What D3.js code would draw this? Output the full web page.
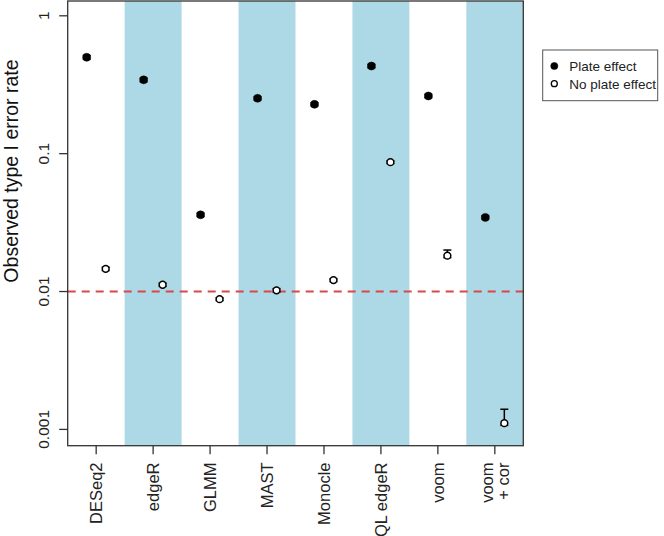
<!DOCTYPE html>
<html>
<head>
<meta charset="utf-8">
<script src="https://cdn.jsdelivr.net/npm/d3@7"></script>
<style>
  html, body { margin: 0; padding: 0; background: #fff; }
  svg { display: block; font-family: "Liberation Sans", Arial, Helvetica, sans-serif; }
</style>
</head>
<body>
<svg id="chart" width="664" height="536"></svg>
<script>
// ---- Data ----
const methods = ["DESeq2", "edgeR", "GLMM", "MAST", "Monocle", "QL edgeR", "voom", "voom\n+ cor"];
const shaded = [false, true, false, true, false, true, false, true];
const plateEffect      = [0.50, 0.343, 0.036, 0.252, 0.228, 0.432, 0.262, 0.0345];
const plateEffectLow   = [0.485, 0.333, 0.035, 0.245, 0.222, 0.420, 0.255, 0.0336];
const plateEffectHigh  = [0.515, 0.353, 0.037, 0.259, 0.234, 0.444, 0.269, 0.0354];
const noPlate          = [0.0146, 0.0112, 0.0088, 0.0102, 0.0121, 0.0868, 0.0182, 0.00111];
const noPlateLow       = [0.0142, 0.0109, 0.0086, 0.0099, 0.0118, 0.0848, 0.0176, 0.00107];
const noPlateHigh      = [0.0150, 0.0115, 0.0090, 0.0105, 0.0124, 0.0888, 0.0200, 0.00140];
const yTicks = [0.001, 0.01, 0.1, 1];
const yTickLabels = ["0.001", "0.01", "0.1", "1"];
const threshold = 0.01;
const legendLabels = ["Plate effect", "No plate effect"];

// ---- Layout ----
const svg = d3.select("#chart");
const L = 67.7, R = 523.3, T = 1, B = 445.7;

const x = d3.scaleBand().domain(methods).range([L, R]).padding(0);
const y = d3.scaleLog().domain([0.001, 1]).range([429.4, 15.8]);

// shaded bands
svg.append("g").selectAll("rect")
  .data(methods.filter((m, i) => shaded[i]))
  .join("rect")
  .attr("x", d => x(d)).attr("y", T)
  .attr("width", x.bandwidth()).attr("height", B - T)
  .attr("fill", "#ADD8E6");

// threshold line
svg.append("line")
  .attr("x1", L).attr("x2", R)
  .attr("y1", y(threshold)).attr("y2", y(threshold))
  .attr("stroke", "#D94848").attr("stroke-width", 2)
  .attr("stroke-dasharray", "8,6");

// box
svg.append("rect")
  .attr("x", L).attr("y", T).attr("width", R - L).attr("height", B - T)
  .attr("fill", "none").attr("stroke", "#333").attr("stroke-width", 1.3);

// y axis ticks and labels
const yAxisG = svg.append("g");
yAxisG.selectAll("line").data(yTicks).join("line")
  .attr("x1", L - 8.5).attr("x2", L)
  .attr("y1", d => y(d)).attr("y2", d => y(d))
  .attr("stroke", "#333").attr("stroke-width", 1.3);
yAxisG.selectAll("text").data(yTicks).join("text")
  .attr("transform", d => `translate(48.5,${y(d)}) rotate(-90)`)
  .attr("text-anchor", "middle")
  .attr("font-size", 15.5)
  .attr("fill", "#222")
  .text((d, i) => yTickLabels[i]);

// y title
svg.append("text")
  .attr("transform", "translate(17.5,171) rotate(-90)")
  .attr("text-anchor", "middle")
  .attr("font-size", 19.5)
  .attr("fill", "#111")
  .text("Observed type I error rate");

// x ticks and labels
const xAxisG = svg.append("g");
xAxisG.selectAll("line").data(methods).join("line")
  .attr("x1", d => x(d) + x.bandwidth() / 2).attr("x2", d => x(d) + x.bandwidth() / 2)
  .attr("y1", B).attr("y2", B + 8.5)
  .attr("stroke", "#333").attr("stroke-width", 1.3);
methods.forEach(m => {
  const lines = m.split("\n");
  const cx = x(m) + x.bandwidth() / 2;
  const n = lines.length;
  lines.forEach((ln, j) => {
    const off = (j - (n - 1) / 2) * 16.5;
    xAxisG.append("text")
      .attr("transform", `translate(${cx + off + 6},462.5) rotate(-90)`)
      .attr("text-anchor", "end")
      .attr("font-size", 16.5)
      .attr("fill", "#222")
      .text(ln);
  });
});

// points
const off = 9.5;
function drawSeries(vals, lo, hi, dx, filled) {
  const g = svg.append("g");
  methods.forEach((m, i) => {
    const cx = x(m) + x.bandwidth() / 2 + dx;
    g.append("line").attr("x1", cx).attr("x2", cx)
      .attr("y1", y(lo[i])).attr("y2", y(hi[i]))
      .attr("stroke", "#000").attr("stroke-width", 1.5);
    [lo[i], hi[i]].forEach(v => {
      g.append("line").attr("x1", cx - 4).attr("x2", cx + 4)
        .attr("y1", y(v)).attr("y2", y(v))
        .attr("stroke", "#000").attr("stroke-width", 1.5);
    });
    g.append("circle").attr("cx", cx).attr("cy", y(vals[i]))
      .attr("r", filled ? 4 : 3.4)
      .attr("fill", filled ? "#000" : "#fff")
      .attr("stroke", "#000").attr("stroke-width", filled ? 0.5 : 1.5);
  });
}
drawSeries(plateEffect, plateEffectLow, plateEffectHigh, -off, true);
drawSeries(noPlate, noPlateLow, noPlateHigh, off, false);

// legend
const lg = svg.append("g");
lg.append("rect").attr("x", 542.7).attr("y", 50).attr("width", 115).attr("height", 50.7)
  .attr("fill", "#fff").attr("stroke", "#555").attr("stroke-width", 1);
legendLabels.forEach((lab, i) => {
  const cy = 66 + i * 17.7;
  lg.append("circle").attr("cx", 554.3).attr("cy", cy).attr("r", i === 0 ? 3.6 : 3)
    .attr("fill", i === 0 ? "#000" : "#fff").attr("stroke", "#000").attr("stroke-width", i === 0 ? 0.5 : 1.3);
  lg.append("text").attr("x", 569.3).attr("y", cy + 4.8)
    .attr("font-size", 13.5).attr("fill", "#222").text(lab);
});
</script>
</body>
</html>
